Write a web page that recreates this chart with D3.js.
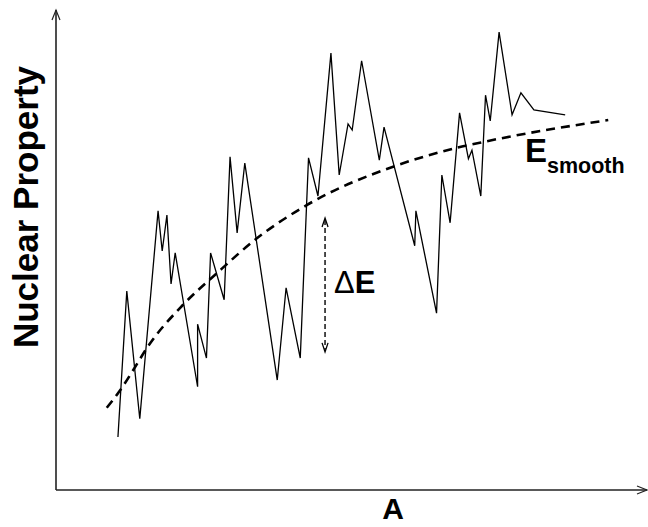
<!DOCTYPE html>
<html><head><meta charset="utf-8">
<script src="https://cdn.jsdelivr.net/npm/d3@7"></script>
<style>html,body{margin:0;padding:0;background:#fff;}svg{display:block;}</style>
</head><body>
<script>
// Data (arbitrary units: A on x, property on y)
const zigA = [10.5,12.0,14.2,17.3,18.0,18.8,19.5,20.2,24.0,24.0,25.5,26.2,28.5,29.5,30.7,32.0,37.5,39.0,41.4,42.8,44.4,46.6,48.0,49.5,50.2,51.8,54.8,55.6,60.8,61.0,64.5,65.4,66.8,68.4,69.9,70.5,72.0,72.8,73.6,75.1,77.3,78.8,81.0,86.3];
const zigE = [11.1,41.6,14.9,58.4,50.0,57.5,43.1,49.6,21.6,34.7,27.6,49.6,39.8,69.7,53.8,68.4,23.0,42.3,27.6,69.5,61.5,91.4,65.9,76.6,75.3,89.8,69.0,75.9,51.1,58.4,37.0,65.9,55.9,78.9,69.3,71.1,61.5,82.6,77.2,95.8,78.5,83.1,79.5,78.5];
const smoothA = [8.6,10.9,13.1,15.4,21.5,27.3,34.1,42.5,57.5,68.0,72.4,93.6];
const smoothE = [17.2,20.9,25.1,29.7,38.7,45.4,52.7,59.6,67.8,71.6,72.8,77.4];
const deltaA = [45.6];
const deltaE = [56.9, 28.9];
const xTitle = "A";
const yTitle = "Nuclear Property";

const W = 648, H = 527;
const svg = d3.select("body").append("svg").attr("width", W).attr("height", H);
const x = d3.scaleLinear().domain([0, 100]).range([56, 646]);
const y = d3.scaleLinear().domain([0, 100]).range([490, 12]);
const font = "'Liberation Sans', Arial, Helvetica, sans-serif";

// axes with open arrowheads
const ax = svg.append("g").attr("stroke", "#222").attr("stroke-width", 1.6).attr("fill", "none");
ax.append("line").attr("x1", x(0)).attr("y1", y(0)).attr("x2", x(0)).attr("y2", 10);
ax.append("path").attr("d", `M${x(0)-4},${20} L${x(0)},${10} L${x(0)+4},${20}`).attr("stroke-width", 1.2);
ax.append("line").attr("x1", x(0)).attr("y1", y(0)).attr("x2", 647).attr("y2", y(0));
ax.append("path").attr("d", `M${637},${y(0)-4} L${647},${y(0)} L${637},${y(0)+4}`).attr("stroke-width", 1.2);

// zigzag line
const zig = zigA.map((a, i) => [a, zigE[i]]);
svg.append("path").datum(zig)
  .attr("d", d3.line().x(d => x(d[0])).y(d => y(d[1])))
  .attr("fill", "none").attr("stroke", "#000").attr("stroke-width", 1.3).attr("stroke-linejoin", "miter");

// smooth dashed curve
const sm = smoothA.map((a, i) => [a, smoothE[i]]);
svg.append("path").datum(sm)
  .attr("d", d3.line().curve(d3.curveMonotoneX).x(d => x(d[0])).y(d => y(d[1])))
  .attr("fill", "none").attr("stroke", "#000").attr("stroke-width", 2.6).attr("stroke-dasharray", "9,6");

// delta E dashed double arrow
const dx = x(deltaA[0]), dy1 = y(deltaE[0]), dy2 = y(deltaE[1]);
svg.append("line").attr("x1", dx).attr("x2", dx).attr("y1", dy1 + 2).attr("y2", dy2 - 2)
  .attr("stroke", "#000").attr("stroke-width", 1.4).attr("stroke-dasharray", "5,3");
svg.append("path").attr("d", `M${dx-3},${dy1+9} L${dx},${dy1} L${dx+3},${dy1+9}`)
  .attr("fill", "none").attr("stroke", "#000").attr("stroke-width", 1.3);
svg.append("path").attr("d", `M${dx-3},${dy2-9} L${dx},${dy2} L${dx+3},${dy2-9}`)
  .attr("fill", "none").attr("stroke", "#000").attr("stroke-width", 1.3);

// labels
const dl = svg.append("text").attr("x", 334).attr("y", 293).attr("font-family", font).attr("font-size", 31).attr("fill", "#000");
dl.append("tspan").attr("font-weight", "normal").text("Δ");
dl.append("tspan").attr("font-weight", "bold").text("E");

const es = svg.append("text").attr("x", 525).attr("y", 162).attr("font-family", font).attr("font-weight", "bold").attr("fill", "#000");
es.append("tspan").attr("font-size", 33).text("E");
es.append("tspan").attr("font-size", 21.5).attr("dy", 11).text("smooth");

svg.append("text").attr("x", 393).attr("y", 519).attr("text-anchor", "middle")
  .attr("font-family", font).attr("font-weight", "bold").attr("font-size", 30).text(xTitle);

svg.append("text").attr("transform", "translate(38,207) rotate(-90)").attr("text-anchor", "middle")
  .attr("font-family", font).attr("font-weight", "bold").attr("font-size", 35).text(yTitle);
</script>
</body></html>
